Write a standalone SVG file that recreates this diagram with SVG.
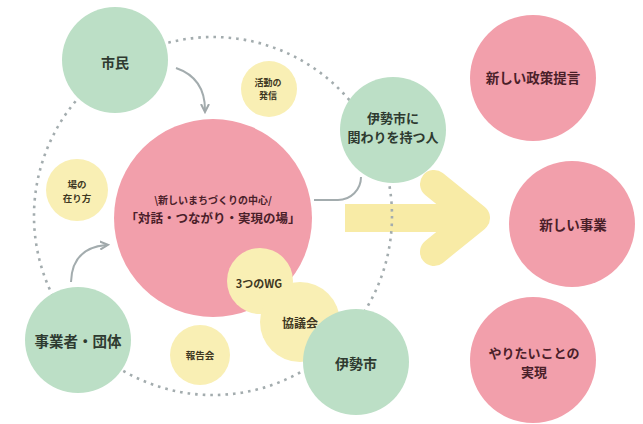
<svg xmlns="http://www.w3.org/2000/svg" width="643" height="424" viewBox="0 0 643 424">
<defs>
<marker id="ah" viewBox="0 0 10 10" refX="6" refY="5" markerWidth="5" markerHeight="5" orient="auto" markerUnits="strokeWidth">
<path d="M0,1 L8,5 L0,9" fill="none" stroke="#a0a8aa" stroke-width="2"/>
</marker>
<style>
text{font-family:"Noto Sans CJK JP","Noto Sans CJK SC",sans-serif;font-weight:700;text-anchor:middle;dominant-baseline:central}
.g{fill:#bcdfc6}
.p{fill:#f29fab}
.y{fill:#f9efb4}
.tg{fill:#2e3a30}
.tp{fill:#4a2029}
.ty{fill:#3e3722}
.ring{fill:none;stroke:#a3acae;stroke-width:2.6;stroke-dasharray:2.6 5}
.con{fill:none;stroke:#a3acae;stroke-width:2}
</style>
</defs>
<rect width="643" height="424" fill="#ffffff"/>
<g id="big-arrow" fill="none" stroke="#f8eba6" stroke-width="28" stroke-linecap="round" stroke-linejoin="round">
<line x1="345" y1="218" x2="470" y2="218" stroke-linecap="butt"/>
<polyline points="434,184 476,218 434,252"/>
</g>
<g id="connectors">
<circle class="ring" cx="213" cy="216" r="179"/>
<path class="con" d="M176 68 Q205 78 205 110" marker-end="url(#ah)"/>
<path class="con" d="M71 282 Q72 248 106 245" marker-end="url(#ah)"/>
<path class="con" stroke="#b2c2c8" d="M361 177 A23 23 0 0 1 338 200 L314 200"/>
</g>
<g id="center">
<circle class="p" cx="213" cy="218" r="99"/>
<text class="tp" x="213" y="199" font-size="10">\新しいまちづくりの中心/</text>
<text class="tp" x="213" y="217" font-size="12.5">「対話・つながり・実現の場」</text>
</g>
<g id="shimin"><circle class="g" cx="115" cy="60" r="53"/><text class="tg" x="115" y="62" font-size="14">市民</text></g>
<g id="katsudo"><circle class="y" cx="269" cy="89" r="28"/><text class="ty" x="268" y="82" font-size="9">活動の</text><text class="ty" x="268" y="95" font-size="9">発信</text></g>
<g id="ba"><circle class="y" cx="77" cy="190" r="31"/><text class="ty" x="77" y="184" font-size="9.5">場の</text><text class="ty" x="77" y="198" font-size="9.5">在り方</text></g>
<g id="wg"><circle class="y" cx="260" cy="281" r="33"/><text class="ty" x="259" y="283" font-size="11">3つのWG</text></g>
<g id="kyogikai"><circle class="y" cx="300" cy="322" r="40"/><text class="ty" x="300" y="322" font-size="12">協議会</text></g>
<g id="hokokai"><circle class="y" cx="200" cy="355" r="30"/><text class="ty" x="200" y="355" font-size="9.5">報告会</text></g>
<g id="jigyosha"><circle class="g" cx="78" cy="340" r="53"/><text class="tg" x="78" y="340" font-size="14.5">事業者・団体</text></g>
<g id="isecity"><circle class="g" cx="356" cy="362" r="53"/><text class="tg" x="356" y="363" font-size="14">伊勢市</text></g>
<g id="kakawari"><circle class="g" cx="393" cy="130" r="53"/><text class="tg" x="393" y="117" font-size="13">伊勢市に</text><text class="tg" x="393" y="136" font-size="13">関わりを持つ人</text></g>
<g id="seisaku"><circle class="p" cx="533" cy="78" r="63"/><text class="tp" x="533" y="77" font-size="13.5">新しい政策提言</text></g>
<g id="jigyo"><circle class="p" cx="572" cy="224" r="63"/><text class="tp" x="573" y="224" font-size="13.5">新しい事業</text></g>
<g id="yaritai"><circle class="p" cx="533" cy="360" r="63"/><text class="tp" x="534" y="352" font-size="13">やりたいことの</text><text class="tp" x="534" y="371" font-size="13">実現</text></g>
</svg>
